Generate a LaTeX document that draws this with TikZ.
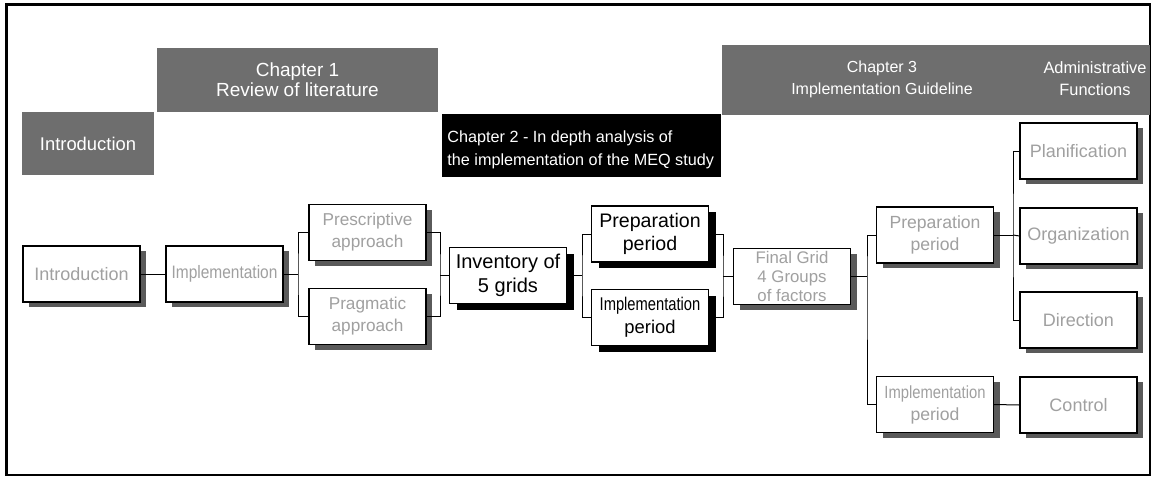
\documentclass[tikz,border=0pt]{standalone}
\usepackage{fontspec}
\usepackage{graphicx}
\setmainfont{Liberation Sans}
\usetikzlibrary{shadows}
\definecolor{hdrgray}{HTML}{6E6E6E}
\definecolor{shadowgray}{HTML}{5A5A5A}
\definecolor{boxtext}{HTML}{A0A0A0}
\newcommand{\fs}[1]{\fontsize{#1}{1.2\dimexpr#1pt\relax}\selectfont}
\newcommand{\cond}[2]{\scalebox{#1}[1]{#2}}
\begin{document}
\begin{tikzpicture}[x=0.5pt,y=-0.5pt,
  hdr/.style={fill=hdrgray, text=white, inner sep=0pt, align=center},
  hdrtext/.style={text=white, inner sep=0pt, align=center},
  basebox/.style={draw=black, line width=0.55pt, fill=white, align=center,
    minimum width=58.5pt, minimum height=28pt, inner sep=0pt},
  gbox/.style={basebox, text=boxtext, font=\fs{9},
    drop shadow={shadow xshift=3pt, shadow yshift=-2.6pt, fill=shadowgray, opacity=1}},
  bbox/.style={basebox, line width=0.7pt, text=black,
    drop shadow={shadow xshift=3.5pt, shadow yshift=-3.2pt, fill=black, opacity=1}},
  conn/.style={draw=black, line width=0.5pt}
]
\useasboundingbox (0,0) rectangle (1152,478);
% frame
\draw[line width=1.2pt] (6.5,4.5) rectangle (1150,475);

% headers
\node[hdr, minimum width=66pt, minimum height=31.5pt, font=\fs{9.2}] (hintro) at (88,143.5) {Introduction};
\node[hdr, minimum width=140.5pt, minimum height=32pt, font=\fontsize{9.5}{10}\selectfont] (hch1) at (297.5,80) {Chapter 1\\Review of literature};
\node[fill=black, inner sep=0pt, minimum width=139.5pt, minimum height=31.5pt] (hch2) at (581.5,145.5) {};
\node[hdrtext, anchor=west, align=left, font=\fontsize{8.1}{11.5}\selectfont] (hch2t) at (447,150) {Chapter 2 - In depth analysis of\\the implementation of the MEQ study};
\node[hdr, minimum width=214pt, minimum height=35pt] (hch3) at (936,80) {};
\node[hdrtext, font=\fontsize{8}{11}\selectfont] (hch3a) at (882,79) {Chapter 3\\Implementation Guideline};
\node[hdrtext, font=\fontsize{8.2}{11}\selectfont] (hch3b) at (1095,79) {Administrative\\Functions};

% boxes column 1
\node[gbox] (intro) at (81.5,274) {Introduction};
\node[gbox, font=\fs{9}] (impl) at (224.5,274) {\cond{0.86}{Implementation}};
\node[gbox, font=\fontsize{8.6}{11}\selectfont] (presc) at (367.5,232.5) {Prescriptive\\approach};
\node[gbox, font=\fontsize{8.6}{11}\selectfont] (prag) at (367.5,316.5) {Pragmatic\\approach};

% chapter 2 column
\node[bbox, font=\fontsize{10}{12}\selectfont] (inv) at (508,275.5) {Inventory of\\5 grids};
\node[bbox, font=\fontsize{9.8}{11.5}\selectfont] (prep2) at (650,234) {Preparation\\period};
\node[bbox, font=\fontsize{9.2}{11.5}\selectfont] (impl2) at (650,317.5) {\cond{0.8}{Implementation}\\period};

% chapter 3 column
\node[gbox, font=\fontsize{8.4}{9.6}\selectfont] (final) at (792,276.5) {Final Grid\\4 Groups\\of factors};
\node[gbox, font=\fontsize{8.8}{11}\selectfont] (prep3) at (935,235) {Preparation\\period};
\node[gbox, font=\fontsize{8.8}{11}\selectfont] (impl3) at (935,404.5) {\cond{0.84}{Implementation}\\period};
\node[gbox] (plan) at (1078.5,151) {Planification};
\node[gbox] (org) at (1078.5,236) {Organization};
\node[gbox] (dir) at (1078.5,320) {Direction};
\node[gbox] (ctrl) at (1078.5,405) {Control};

% bracket points
\coordinate (b1) at (298,274);
\coordinate (b2) at (440,275.5);
\coordinate (b3) at (582,275.5);
\coordinate (b4) at (723,276.5);
\coordinate (b5) at (867,276.5);
\coordinate (b6) at (1013,235);

% connectors
\draw[conn] (intro.east) -- (impl.west);
\draw[conn] (impl.east) -- (b1);
\draw[conn] (presc.west) -| (b1) |- (prag.west);
\draw[conn] (presc.east) -| (b2) |- (prag.east);
\draw[conn] (b2) -- (inv.west);
\draw[conn] (inv.east) -- (b3);
\draw[conn] (prep2.west) -| (b3) |- (impl2.west);
\draw[conn] (prep2.east) -| (b4) |- (impl2.east);
\draw[conn] (b4) -- (final.west);
\draw[conn] (final.east) -- (b5);
\draw[conn] (prep3.west) -| (b5) |- (impl3.west);
\draw[conn] (prep3.east) -- (b6);
\draw[conn] (plan.west) -| (b6) |- (dir.west);
\draw[conn] (b6) -- (org.west);
\draw[conn] (impl3.east) -- (ctrl.west);
\end{tikzpicture}
\end{document}
